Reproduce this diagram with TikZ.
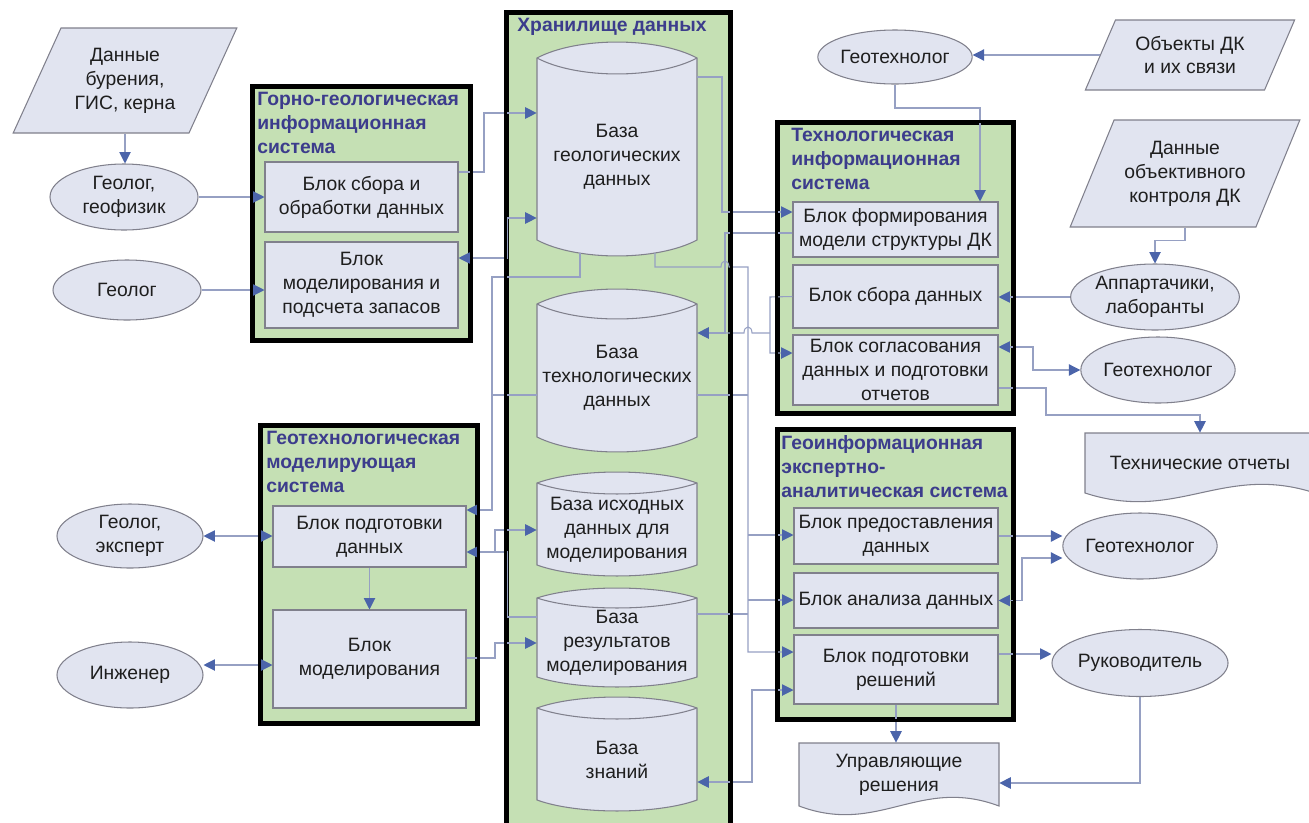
\documentclass[tikz,border=0pt]{standalone}
\usepackage{fontspec}
\setmainfont{Liberation Sans}
\usetikzlibrary{arrows.meta,shapes.geometric,fit}

\definecolor{sysgreen}{RGB}{197,224,180}
\definecolor{shapefill}{RGB}{225,228,240}
\definecolor{boxgray}{RGB}{128,128,140}
\definecolor{linecol}{RGB}{150,160,195}
\definecolor{tipblue}{RGB}{75,100,170}
\definecolor{titleblue}{RGB}{60,60,140}
\definecolor{textcol}{RGB}{30,30,30}

\newcommand\bodyfont{\fontsize{11}{13.6}\selectfont}

\tikzset{tipb/.tip={Triangle[length=6.5pt,width=6.5pt,color=tipblue]}}

% database drum: name, top y, bottom y, arc depth, text
\newcommand\dbcyl[5]{%
  \filldraw[dbshape] (537,#2) .. controls (577,#2-1.33*#4) and (657,#2-1.33*#4) .. (697,#2)
    -- (697,#3) .. controls (657,#3+1.33*#4) and (577,#3+1.33*#4) .. (537,#3) -- cycle;
  \draw[dbshape] (537,#2) .. controls (577,#2+1.33*#4) and (657,#2+1.33*#4) .. (697,#2);
  \node[dbtext, boxwh={160}{#3-#2-#4}] (#1) at (617,{(#2+#3+#4)/2}) {#5};}

% sheet with wavy bottom: left x, right x, top y, bottom y
\newcommand\docsheet[4]{%
  \filldraw[dbshape] (#1,#3) -- (#2,#3) -- (#2,#4)
    .. controls ({#1+0.6*(#2-#1)},#4-30) and ({#1+0.4*(#2-#1)},#4+30) .. (#1,#4) -- cycle;}

\begin{document}
\begin{tikzpicture}[x=0.02cm, y=-0.02cm,
    boxwh/.style 2 args={minimum width=(#1)*0.02cm, minimum height=(#2)*0.02cm},
    sysbox/.style={draw=black, line width=1.8pt, fill=sysgreen, inner sep=0pt},
    sysedge/.style={draw=black, line width=1.8pt},
    systitle/.style={anchor=north west, align=left, inner sep=0pt, text=titleblue, font=\bodyfont\bfseries},
    blk/.style={draw=boxgray, line width=0.6pt, fill=shapefill, align=center, inner sep=1pt, text=textcol, font=\bodyfont},
    actor/.style={blk, ellipse, inner sep=0pt},
    indata/.style={blk, trapezium, trapezium left angle=60, trapezium right angle=120, trapezium stretches=true, inner sep=0pt},
    dbshape/.style={draw=boxgray, line width=0.6pt, fill=shapefill},
    dbtext/.style={align=center, inner sep=0pt, text=textcol, font=\bodyfont},
    conn/.style={draw=linecol, line width=0.6pt, -tipb},
    conn2/.style={draw=linecol, line width=0.6pt, tipb-tipb},
    conn0/.style={draw=linecol, line width=0.6pt}]

  \useasboundingbox (0,0) rectangle (1309,822);
  \clip (0,0) rectangle (1309,822);

  % systems
  \node[sysbox, fit={(253,87) (470,340)}] (ggis) {};
  \node[sysbox, fit={(507,13) (730,840)}] (store) {};
  \node[sysbox, fit={(778,123) (1013,413)}] (tis) {};
  \node[sysbox, fit={(261,426) (477,723)}] (gms) {};
  \node[sysbox, fit={(778,430) (1013,719)}] (geas) {};

  \node[systitle] (ggist) at (257,92) {Горно-геологическая\\информационная\\система};
  \node[systitle] (storet) at (517,18) {Хранилище данных};
  \node[systitle] (tist) at (791,128) {Технологическая\\информационная\\система};
  \node[systitle] (gmst) at (266,431) {Геотехнологическая\\моделирующая\\система};
  \node[systitle] (geast) at (781,435) {Геоинформационная\\экспертно-\\аналитическая система};

  % blocks
  \node[blk, boxwh={193}{70}] (gcollect) at (361.5,197) {Блок сбора и\\обработки данных};
  \node[blk, boxwh={193}{86}] (gmodel) at (361.5,285) {Блок\\моделирования и\\подсчета запасов};
  \node[blk, boxwh={193}{61}] (mprep) at (369.5,536.5) {Блок подготовки\\данных};
  \node[blk, boxwh={193}{98}] (mmodel) at (369.5,659) {Блок\\моделирования};
  \node[blk, boxwh={205}{55}] (tform) at (895.5,229.5) {Блок формирования\\модели структуры ДК};
  \node[blk, boxwh={205}{63}] (tcollect) at (895.5,296.5) {Блок сбора данных};
  \node[blk, boxwh={205}{70}] (tagree) at (895.5,370) {Блок согласования\\данных и подготовки\\отчетов};
  \node[blk, boxwh={204}{56}] (gprov) at (896,536) {Блок предоставления\\данных};
  \node[blk, boxwh={204}{55}] (ganal) at (896,600.5) {Блок анализа данных};
  \node[blk, boxwh={204}{69}] (gdec) at (896,669.5) {Блок подготовки\\решений};

  % databases
  \dbcyl{bgeo}{58}{240}{16}{База\\геологических\\данных}
  \dbcyl{btech}{304}{437}{15}{База\\технологических\\данных}
  \dbcyl{binit}{483}{565}{11}{База исходных\\данных для\\моделирования}
  \dbcyl{bres}{598}{677}{10}{База\\результатов\\моделирования}
  \dbcyl{bknow}{708}{800}{11}{База\\знаний}
  \coordinate (bgeoSL) at (580,253);
  \coordinate (bgeoSR) at (655,253);

  % people
  \node[actor, boxwh={148}{66}] (geolA) at (124,197) {Геолог,\\геофизик};
  \node[actor, boxwh={148}{60}] (geolB) at (127,290) {Геолог};
  \node[actor, boxwh={146}{64}] (expert) at (130,536) {Геолог,\\эксперт};
  \node[actor, boxwh={146}{66}] (engineer) at (130,675) {Инженер};
  \node[actor, boxwh={140}{54}] (gtechA) at (895,57) {Геотехнолог};
  \node[actor, boxwh={146}{66}] (app) at (1155,297) {Аппартачики,\\лаборанты};
  \node[actor, boxwh={146}{66}] (gtechB) at (1158,370) {Геотехнолог};
  \node[actor, boxwh={140}{66}] (gtechC) at (1140,546) {Геотехнолог};
  \node[actor, boxwh={140}{67}] (boss) at (1140,663) {Руководитель};

  % input data
  \node[indata, boxwh={226}{105}] (drill) at (125,80.5) {Данные\\бурения,\\ГИС, керна};
  \node[indata, boxwh={210}{70}] (objects) at (1190,55) {Объекты ДК\\и их связи};
  \node[indata, boxwh={230}{107}] (dataobj) at (1185,173.5) {Данные\\объективного\\контроля ДК};

  % documents
  \docsheet{799}{999}{743}{806}
  \node[dbtext, boxwh={200}{63}] (ctrl) at (899,774.5) {Управляющие\\решения};
  \docsheet{1085}{1315}{433}{493}
  \node[dbtext, boxwh={230}{60}] (reports) at (1200,463) {Технические отчеты};

  % left side
  \draw[conn] (drill.south) -- (drill.south |- geolA.north);
  \draw[conn] (geolA.east) -- (gcollect.west |- geolA.east);
  \draw[conn] (geolB.east) -- (gmodel.west |- geolB.east);
  \draw[conn2] (expert.east) -- (mprep.west |- expert.east);
  \draw[conn2] (engineer.east |- 0,665) -- (mmodel.west |- 0,665);
  \draw[conn] (mprep.south) -- (mmodel.north);

  \draw[conn] (gcollect.east |- 0,172) -| (484,113) -- (bgeo.west |- 0,113);
  \draw[conn2] (gmodel.east |- 0,258) -- (507,258) -- (507,218) -- (bgeo.west |- 0,218);
  \draw[conn] (bgeoSL) |- (492,277) -- (492,510) -- (mprep.east |- 0,510);
  \draw[conn0] (btech.west |- 0,395) -- (492,395);
  \draw[conn2] (mprep.east |- 0,552) -- (495,552) -- (495,530) -- (binit.west |- 0,530);
  \draw[conn0] (bres.west |- 0,617) -- (507,617) -- (507,552) -- (495,552);
  \draw[conn] (mmodel.east |- 0,658) -- (495,658) -- (495,643) -- (bres.west |- 0,643);

  % right side of the store
  \draw[conn] (bgeo.east |- 0,77) -- (722,77) -- (722,212) -- (tform.west |- 0,212);
  \draw[conn] (tform.west |- 0,233) -- (725,233) -- (725,333) -- (btech.east |- 0,333);
  \draw[conn] (tcollect.west) -- (770,297) -- (770,353) -- (tagree.west |- 0,353);
  \draw[conn0] (770,333) -- (752,333) .. controls +(0,-8) and +(0,-8) .. (744,333) -- (725,333);
  \draw[conn] (bgeoSR) -- (655,267) -- (721,267) .. controls +(0,-8) and +(0,-8) .. (729,267)
        -- (748,267) -- (748,652) -- (gdec.west |- 0,652);
  \draw[conn] (748,535) -- (gprov.west |- 0,535);
  \draw[conn] (748,600) -- (ganal.west |- 0,600);
  \draw[conn0] (btech.east |- 0,395) -- (748,395);
  \draw[conn0] (bres.east |- 0,614) -- (748,614);
  \draw[conn2] (gdec.west |- 0,690) -- (752,690) -- (752,782) -- (bknow.east |- 0,782);

  % right column
  \draw[conn] (objects.west) -- (objects.west -| gtechA.east);
  \draw[conn] (gtechA.south) |- (980,108) -- (tform.north -| 980,0);
  \draw[conn] (dataobj.south) -- ++(0,13) -| (app.north);
  \draw[conn] (app.west) -- (tcollect.east |- app.west);
  \draw[conn2] (tagree.east |- 0,347) -- (1033,347) |- (gtechB.west);
  \draw[conn] (tagree.east |- 0,388) -- (1046,388) |- (1200,415) -- (reports.north);
  \draw[conn] (gprov.east) -- (gtechC.west |- gprov.east);
  \draw[conn2] (ganal.east) -- (1022,600.5) |- (gtechC.west |- 0,558);
  \draw[conn] (gdec.east |- 0,654) -- (boss.west |- 0,654);
  \draw[conn] (gdec.south) -- (gdec.south |- ctrl.north);
  \draw[conn] (boss.south) |- (ctrl.east |- 0,783);

  % system frames on top of the crossing lines
  \foreach \cname in {ggis,store,tis,gms,geas}
    \draw[sysedge] (\cname.south west) rectangle (\cname.north east);

\end{tikzpicture}
\end{document}
